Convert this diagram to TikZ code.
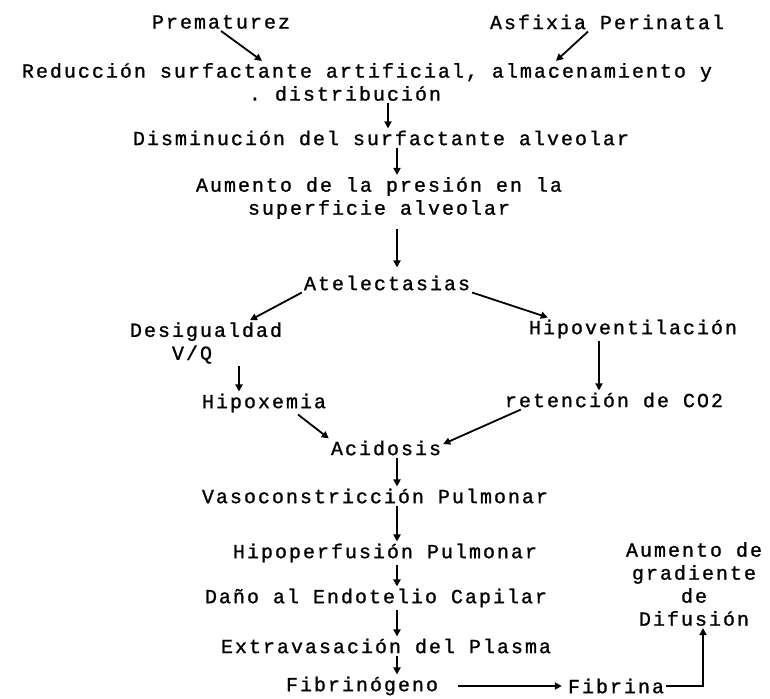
\documentclass[tikz,border=0pt]{standalone}
\usepackage{fontspec}
\setmonofont[LetterSpace=10,FakeBold=1]{Liberation Mono}
\usetikzlibrary{arrows.meta}

\begin{document}
\begin{tikzpicture}[x=1pt,y=-1pt,>={Triangle[length=7pt,width=7pt]}]
	\tikzstyle{txt} = [font=\ttfamily\fontsize{20}{23}\selectfont, inner sep=2pt, align=center]
	\tikzstyle{arr} = [->, line width=1.8pt]
	\fill[white] (0,0) rectangle (770,698);
	\useasboundingbox (0,0) rectangle (770,698);

	\coordinate (cTop) at (388,0);
	\coordinate (cMid) at (397,0);
	\coordinate (cLeft) at (239,0);
	\coordinate (cRight) at (599,0);
	\coordinate (cFar) at (703,0);

	\node[txt] (prem) at 	(221, 22) {Prematurez};
	\node[txt] (asfx) at 	(607, 22) {Asfixia Perinatal};
	\node[txt] (red) at 	(367, 82) {Reducción surfactante artificial, almacenamiento y\\. distribución\hspace*{44pt}};
	\node[txt] (dism) at 	(381,138) {Disminución del surfactante alveolar};
	\node[txt] (aum) at 	(379,198) {Aumento de la presión en la\\superficie alveolar};
	\node[txt] (atel) at 	(387,283) {Atelectasias};
	\node[txt] (desig) at 	(206,343) {Desigualdad\\V/Q\hspace*{28pt}};
	\node[txt] (hipov) at 	(633,329) {Hipoventilación};
	\node[txt] (hipox) at 	(264,403) {Hipoxemia};
	\node[txt] (ret) at 	(614,400) {retención de CO2};
	\node[txt] (acid) at 	(386,448) {Acidosis};
	\node[txt] (vaso) at 	(375,496) {Vasoconstricción Pulmonar};
	\node[txt] (hipop) at 	(385,553) {Hipoperfusión Pulmonar};
	\node[txt] (grad) at 	(694,584) {Aumento de\\gradiente\\de\\Difusión};
	\node[txt] (dano) at 	(376,598) {Daño al Endotelio Capilar};
	\node[txt] (extra) at 	(386,646) {Extravasación del Plasma};
	\node[txt] (fibg) at 	(362,686) {Fibrinógeno};
	\node[txt] (fibr) at 	(616,686) {Fibrina};

	\draw[arr] (prem.south) -- ([xshift=41pt]prem.south |- red.north);
	\draw[arr] ([xshift=-19pt]asfx.south) -- ([xshift=-51pt]asfx.south |- red.north);
	\draw[arr] (red.south -| cTop) -- (dism.north -| cTop);
	\draw[arr] (dism.south -| cMid) -- (aum.north -| cMid);
	\draw[arr] ([yshift=-8pt]aum.south -| cMid) -- ([yshift=6pt]atel.north -| cMid);
	\draw[arr] (atel.south west) -- ([xshift=44pt]desig.north);
	\draw[arr] (atel.south east) -- ([xshift=21pt]hipov.north west);
	\draw[arr] (desig.south -| cLeft) -- (hipox.north -| cLeft);
	\draw[arr] (hipov.south -| cRight) -- (ret.north -| cRight);
	\draw[arr] ([xshift=34pt]hipox.south) -- (acid.north west);
	\draw[arr] ([xshift=18pt]ret.south west) -- ([yshift=4pt]acid.east);
	\draw[arr] (acid.south -| cMid) -- (vaso.north -| cMid);
	\draw[arr] (vaso.south -| cMid) -- (hipop.north -| cMid);
	\draw[arr] (hipop.south -| cMid) -- (dano.north -| cMid);
	\draw[arr] (dano.south -| cMid) -- (extra.north -| cMid);
	\draw[arr] (extra.south -| cMid) -- (fibg.north -| cMid);
	\draw[arr, shorten <=18pt, shorten >=4pt] (fibg.east) -- (fibr.west);
	\draw[arr] (fibr.east) -- (fibr.east -| cFar) -- (grad.south -| cFar);
\end{tikzpicture}
\end{document}
